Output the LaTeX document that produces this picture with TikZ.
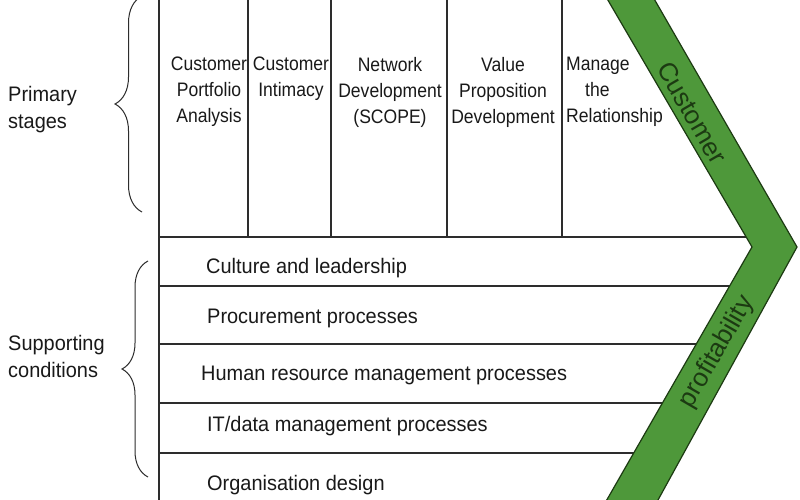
\documentclass[tikz,border=0pt]{standalone}
\usepackage{fontspec}
\setmainfont{Liberation Sans}
\newfontfamily\colfont[FakeStretch=0.9]{Liberation Sans}
\newfontfamily\rowfont[FakeStretch=0.95]{Liberation Sans}
\usetikzlibrary{decorations.pathreplacing}
\definecolor{bandgreen}{RGB}{78,152,58}
\definecolor{banddark}{RGB}{28,58,18}
\definecolor{linegray}{RGB}{45,45,45}
\definecolor{txt}{RGB}{25,25,25}
\begin{document}
\begin{tikzpicture}[x=1pt,y=-1pt,
  grid/.style={draw=linegray, line width=1.3pt},
  coltext/.style={font=\colfont\fontsize{19.5}{26}\selectfont, align=center, anchor=north, inner sep=0pt, text=txt},
  rowtext/.style={font=\rowfont\fontsize{21}{27}\selectfont, anchor=base west, inner sep=0pt, text=txt},
  sidetext/.style={font=\rowfont\fontsize{21}{27.5}\selectfont, align=left, anchor=north west, inner sep=0pt, text=txt},
  bracket/.style={draw=linegray, line width=1pt, decorate, decoration={brace, amplitude=27pt}},
  bandtext/.style={font=\fontsize{26}{30}\selectfont, text=banddark, inner sep=0pt}]
\useasboundingbox (0,0) rectangle (800,500);
\fill[white] (0,0) rectangle (800,500);
% grid lines
\draw[grid] (159,0) -- (159,500);
\foreach \x in {248,331,447,562} \draw[grid] (\x,0) -- (\x,237);
\draw[grid] (159,237) -- (750,237);
\draw[grid] (159,286) -- (733,286);
\draw[grid] (159,344) -- (700,344);
\draw[grid] (159,403) -- (666,403);
\draw[grid] (159,453) -- (638,453);
% chevron band
\begin{scope}
\clip (0,0) rectangle (800,500);
\filldraw[fill=bandgreen, draw=banddark, line width=1.2pt, line join=miter]
  (602,-10) -- (752,247) -- (601,510) -- (652.5,510) -- (797,247) -- (649,-10) -- cycle;
\end{scope}
% band texts
\node[bandtext, rotate=-60] (cust) at (692,113) {Customer};
\node[bandtext, rotate=60] (prof) at (717,352) {profitability};
% column texts
\node[coltext] (c1) at (209,57) {Customer\\Portfolio\\Analysis};
\node[coltext] (c2) at (291,57) {Customer\\Intimacy};
\node[coltext] (c3) at (390,57) {Network\\Development\\(SCOPE)};
\node[coltext] (c4) at (503,57) {Value\\Proposition\\Development};
\node[coltext, align=left, anchor=north west] (c5) at (566,57) {Manage\\\hspace*{19pt}the\\Relationship};
% row texts
\node[rowtext] (r1) at (206,273) {Culture and leadership};
\node[rowtext] (r2) at (207,323) {Procurement processes};
\node[rowtext] (r3) at (201,380) {Human resource management processes};
\node[rowtext] (r4) at (207,431) {IT/data management processes};
\node[rowtext] (r5) at (207,490) {Organisation design};
% side labels
\node[sidetext] (ps) at (8,86) {Primary\\stages};
\node[sidetext] (sc) at (8,335) {Supporting\\conditions};
% braces
\draw[bracket] (142,212) -- (142,-4);
\draw[bracket, decoration={amplitude=26pt}] (148,477) -- (148,261);
\end{tikzpicture}
\end{document}
